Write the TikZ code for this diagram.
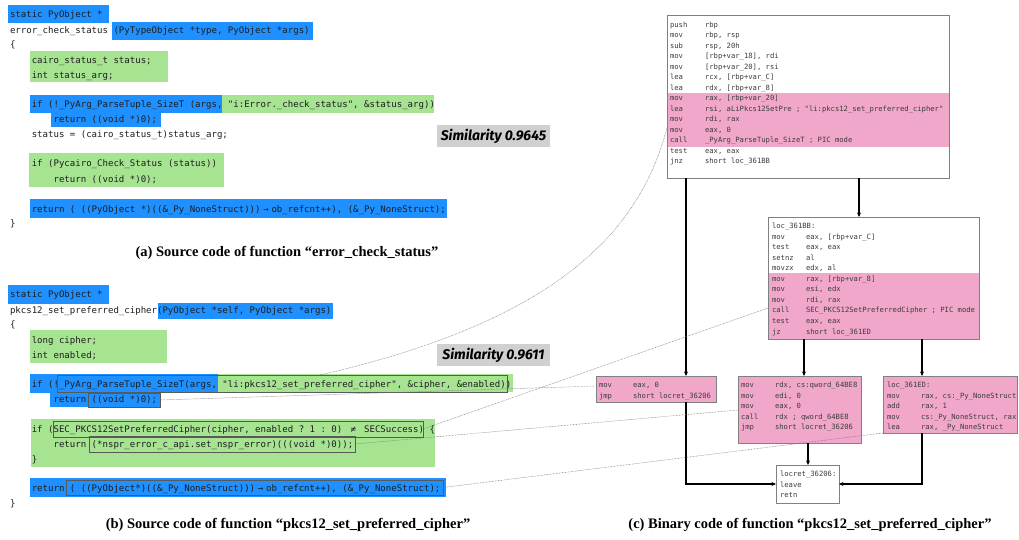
\documentclass[tikz,border=0pt]{standalone}
\usepackage{fontspec}
\setmainfont{Liberation Serif}
\setmonofont{DejaVu Sans Mono}
\newfontfamily\simfont{Fira Sans}
\usetikzlibrary{arrows.meta}
\definecolor{hlblue}{RGB}{30,144,255}
\definecolor{hlgreen}{RGB}{166,228,146}
\definecolor{hlpink}{RGB}{241,167,201}
\definecolor{simgray}{RGB}{208,208,208}
\definecolor{codetext}{RGB}{30,30,30}
\definecolor{bintext}{RGB}{60,60,60}
\newcommand\rbox[6]{\node[#1, minimum width={(#5-#3)*1pt}, minimum height={(#6-#4)*1pt}] (#2) at ({(#3+#5)/2},{(#4+#6)/2}) {};}
\newcommand\cln[4]{\node[code] (#1) at ({10+#2*5.45},{#3+3.2}) {#4};}
\newcommand\binl[6]{\node[bin] (#1a) at (#2,{#4+2.5}) {#5}; \node[bin] (#1b) at (#3,{#4+2.5}) {#6};}
\newcommand\tarrow{\makebox[1.204em]{→}}
\newcommand\tneq{\makebox[1.204em]{≠}}
\tikzset{
  code/.style={anchor=base west, inner sep=0pt, outer sep=0pt, text=codetext, font=\ttfamily\fontsize{9.05}{10}\selectfont\frenchspacing},
  bin/.style={anchor=base west, inner sep=0pt, outer sep=0pt, text=bintext, font=\ttfamily\fontsize{7.2}{8}\selectfont\frenchspacing},
  hlb/.style={fill=hlblue, inner sep=0pt, outer sep=0pt},
  hlg/.style={fill=hlgreen, inner sep=0pt, outer sep=0pt},
  hlp/.style={fill=hlpink, inner sep=0pt, outer sep=0pt},
  obox/.style={draw=black!65, line width=0.7pt, inner sep=0pt, outer sep=0pt},
  bbox/.style={draw=black!50, line width=0.7pt, inner sep=0pt, outer sep=0pt},
  pbox/.style={bbox, fill=hlpink},
  simbox/.style={fill=simgray, inner sep=0pt, minimum width=113pt, minimum height=22pt, font=\simfont\bfseries\itshape\fontsize{14}{16}\selectfont},
  captext/.style={font=\bfseries\fontsize{14.5}{16}\selectfont, inner sep=0pt},
  arr/.style={-{Stealth[length=4.5pt,width=4pt]}, line width=1.1pt, black},
  dots/.style={draw=black!55, line width=0.45pt, dash pattern=on 0.7pt off 0.8pt}
}
\begin{document}
\begin{tikzpicture}[x=1pt,y=-1pt]
\fill[white] (0,0) rectangle (1019,540);
\path[use as bounding box] (0,0) rectangle (1019,540);

% ---------- (a) highlights ----------
\rbox{hlb}{ha1}{8}{5}{109}{23}
\rbox{hlb}{ha2}{112}{22}{313}{40}
\rbox{hlg}{ha3}{30}{51}{168}{82}
\rbox{hlb}{ha4}{30}{95}{222}{113}
\rbox{hlg}{ha5}{222}{95}{434}{113}
\rbox{hlb}{ha6}{51}{113}{161}{127}
\rbox{hlg}{ha7}{29}{153}{224}{187}
\rbox{hlb}{ha8}{30}{199}{447}{218}

% ---------- (a) code ----------
\cln{a1}{0}{14}{static PyObject *}
\cln{a2}{0}{30}{error\_check\_status (PyTypeObject *type, PyObject *args)}
\cln{a3}{0}{44}{\{}
\cln{a4}{4}{60}{cairo\_status\_t status;}
\cln{a5}{4}{75}{int status\_arg;}
\cln{a6}{4}{104}{if (!\_PyArg\_ParseTuple\_SizeT (args, "i:Error.\_check\_status", \&status\_arg))}
\cln{a7}{8}{119}{return ((void *)0);}
\cln{a8}{4}{134}{status = (cairo\_status\_t)status\_arg;}
\cln{a9}{4}{163}{if (Pycairo\_Check\_Status (status))}
\cln{a10}{8}{179}{return ((void *)0);}
\cln{a11}{4}{209}{return ( ((PyObject *)((\&\_Py\_NoneStruct)))\tarrow{}ob\_refcnt++), (\&\_Py\_NoneStruct);}
\cln{a12}{0}{223}{\}}

\node[simbox] (sima) at (493.5,136) {Similarity 0.9645};
\node[captext] (capa) at (287,253) {(a) Source code of function “error\_check\_status”};

% ---------- (b) highlights ----------
\rbox{hlb}{hb1}{8}{285}{109}{304}
\rbox{hlb}{hb2}{158}{303}{333}{319}
\rbox{hlg}{hb3}{30}{330}{167}{363}
\rbox{hlb}{hb4}{30}{374}{218}{393}
\rbox{hlg}{hb5}{218}{374}{513}{392}
\rbox{hlb}{hb6}{50}{392}{160}{407}
\rbox{hlg}{hb7}{31}{419}{435}{467}
\rbox{hlb}{hb8}{30}{478}{446}{497}

% ---------- (b) outlined parts ----------
\rbox{obox}{pbx}{57}{375}{507}{392}
\rbox{obox}{vbx}{88}{393}{160}{407}
\rbox{obox}{sbx}{53}{421}{423}{437}
\rbox{obox}{nbx}{89}{436}{355}{452}
\rbox{obox}{rbx}{66}{480}{443}{495}

% ---------- (b) code ----------
\cln{b1}{0}{294}{static PyObject *}
\cln{b2}{0}{310}{pkcs12\_set\_preferred\_cipher(PyObject *self, PyObject *args)}
\cln{b3}{0}{324}{\{}
\cln{b4}{4}{340}{long cipher;}
\cln{b5}{4}{355}{int enabled;}
\cln{b6}{4}{384}{if (!\_PyArg\_ParseTuple\_SizeT(args, "li:pkcs12\_set\_preferred\_cipher", \&cipher, \&enabled))}
\cln{b7}{8}{399}{return ((void *)0);}
\cln{b8}{4}{429}{if (SEC\_PKCS12SetPreferredCipher(cipher, enabled ? 1 : 0) \tneq{} SECSuccess) \{}
\cln{b9}{8}{444}{return (*nspr\_error\_c\_api.set\_nspr\_error)(((void *)0));}
\cln{b10}{4}{459}{\}}
\cln{b11}{4}{488}{return ( ((PyObject*)((\&\_Py\_NoneStruct)))\tarrow{}ob\_refcnt++), (\&\_Py\_NoneStruct);}
\cln{b12}{0}{503}{\}}

\node[simbox] (simb) at (493.5,355) {Similarity 0.9611};
\node[captext] (capb) at (288,525) {(b) Source code of function “pkcs12\_set\_preferred\_cipher”};

% ---------- (c) binary ----------
\rbox{hlp}{topp}{667}{93}{949}{147}
\rbox{bbox}{top}{667}{15}{949}{178}
\binl{t1}{670}{705}{25}{push}{rbp}
\binl{t2}{670}{705}{35.5}{mov}{rbp, rsp}
\binl{t3}{670}{705}{46}{sub}{rsp, 20h}
\binl{t4}{670}{705}{56.4}{mov}{[rbp+var\_18], rdi}
\binl{t5}{670}{705}{66.9}{mov}{[rbp+var\_20], rsi}
\binl{t6}{670}{705}{77.4}{lea}{rcx, [rbp+var\_C]}
\binl{t7}{670}{705}{87.8}{lea}{rdx, [rbp+var\_8]}
\binl{t8}{670}{705}{98.3}{mov}{rax, [rbp+var\_20]}
\binl{t9}{670}{705}{108.8}{lea}{rsi, aLiPkcs12SetPre ; "li:pkcs12\_set\_preferred\_cipher"}
\binl{t10}{670}{705}{119.2}{mov}{rdi, rax}
\binl{t11}{670}{705}{129.7}{mov}{eax, 0}
\binl{t12}{670}{705}{140.2}{call}{\_PyArg\_ParseTuple\_SizeT ; PIC mode}
\binl{t13}{670}{705}{150.6}{test}{eax, eax}
\binl{t14}{670}{705}{161.1}{jnz}{short loc\_361BB}

\rbox{hlp}{midp}{768}{273}{979}{339}
\rbox{bbox}{mid}{768}{217}{979}{339}
\node[bin] (m0) at (772,228.5) {loc\_361BB:};
\binl{m1}{772}{806}{236.6}{mov}{eax, [rbp+var\_C]}
\binl{m2}{772}{806}{247.1}{test}{eax, eax}
\binl{m3}{772}{806}{257.7}{setnz}{al}
\binl{m4}{772}{806}{268.2}{movzx}{edx, al}
\binl{m5}{772}{806}{278.8}{mov}{rax, [rbp+var\_8]}
\binl{m6}{772}{806}{289.3}{mov}{esi, edx}
\binl{m7}{772}{806}{299.9}{mov}{rdi, rax}
\binl{m8}{772}{806}{310.4}{call}{SEC\_PKCS12SetPreferredCipher ; PIC mode}
\binl{m9}{772}{806}{321}{test}{eax, eax}
\binl{m10}{772}{806}{331.5}{jz}{short loc\_361ED}

\rbox{pbox}{bxa}{596}{376}{716}{402}
\binl{a1}{599}{633}{385}{mov}{eax, 0}
\binl{a2}{599}{633}{395.5}{jmp}{short locret\_36206}

\rbox{pbox}{bxb}{738}{376}{861}{443}
\binl{bb1}{741}{775}{385}{mov}{rdx, cs:qword\_64BE8}
\binl{bb2}{741}{775}{395.5}{mov}{edi, 0}
\binl{bb3}{741}{775}{406}{mov}{eax, 0}
\binl{bb4}{741}{775}{416.5}{call}{rdx ; qword\_64BE8}
\binl{bb5}{741}{775}{427}{jmp}{short locret\_36206}

\rbox{pbox}{bxc}{883}{376}{1017}{433}
\node[bin] (c0) at (887,387.5) {loc\_361ED:};
\binl{cc1}{887}{921}{395.5}{mov}{rax, cs:\_Py\_NoneStruct}
\binl{cc2}{887}{921}{406}{add}{rax, 1}
\binl{cc3}{887}{921}{416.5}{mov}{cs:\_Py\_NoneStruct, rax}
\binl{cc4}{887}{921}{427}{lea}{rax, \_Py\_NoneStruct}

\rbox{bbox}{bxd}{776}{465}{839}{503}
\node[bin] (d1) at (780,476.5) {locret\_36206:};
\node[bin] (d2) at (780,487) {leave};
\node[bin] (d3) at (780,497.5) {retn};

\node[captext] (capc) at (810,525) {(c) Binary code of function “pkcs12\_set\_preferred\_cipher”};

% ---------- control-flow arrows ----------
\draw[arr] (top.south -| 859,0) -- (mid.north -| 859,0);
\draw[arr] (top.south -| 686,0) -- (bxa.north -| 686,0);
\draw[arr] (mid.south -| 804,0) -- (bxb.north -| 804,0);
\draw[arr] (mid.south -| 922,0) -- (bxc.north -| 922,0);
\draw[arr] (bxb.south -| 808,0) -- (bxd.north -| 808,0);
\draw[arr] (bxa.south -| 686,0) |- (bxd.west);
\draw[arr] (bxc.south -| 922,0) |- (bxd.east);

% ---------- dotted correspondences ----------
\draw[dots] (top.west |- 0,128) .. controls (640,230) and (560,320) .. (pbx.north -| 320,0);
\draw[dots] (vbx.east) -- (bxa.west |- 0,386);
\draw[dots] (sbx.east) -- (mid.west |- 0,308);
\draw[dots] (nbx.east) -- (bxb.west |- 0,410);
\draw[dots] (rbx.east) -- (bxc.south west);
\end{tikzpicture}
\end{document}
